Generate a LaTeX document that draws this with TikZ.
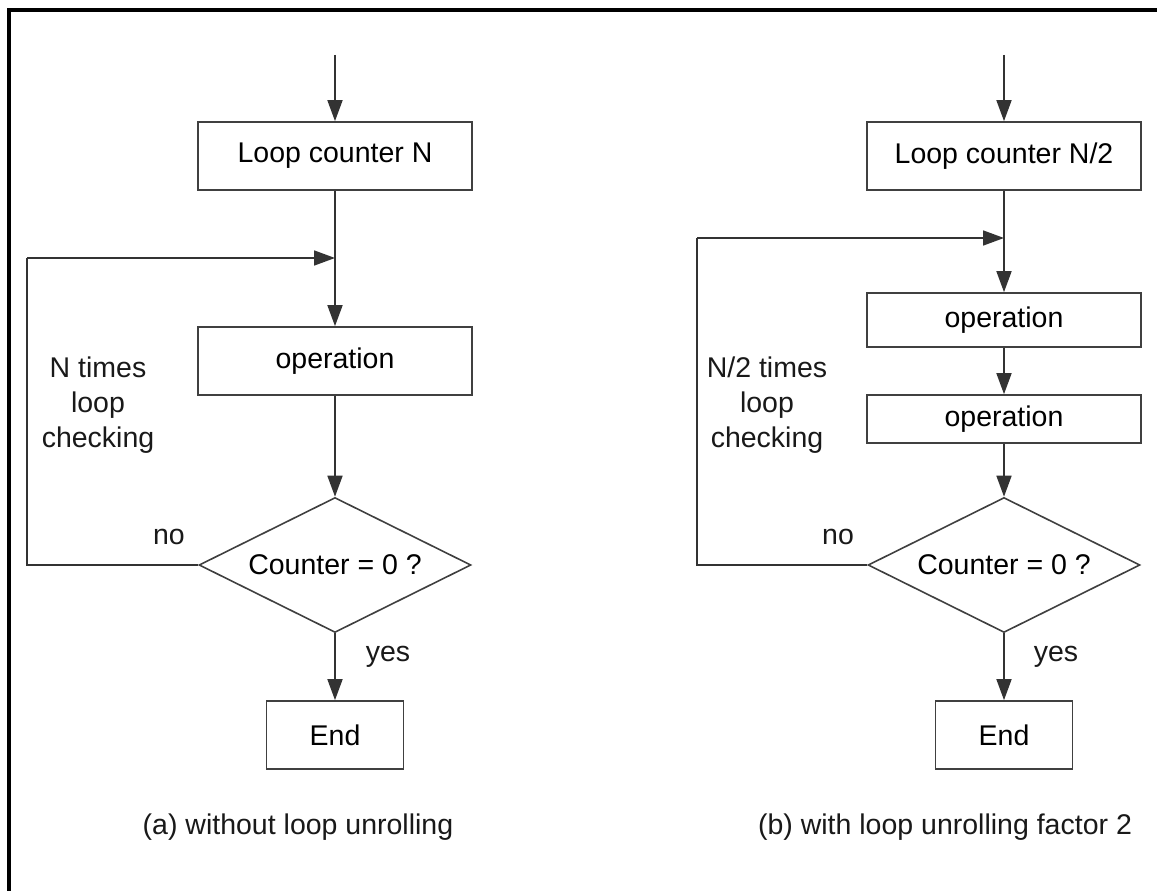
\documentclass[tikz,border=0pt]{standalone}
\usepackage{fontspec}
\setmainfont{Liberation Sans}
\usetikzlibrary{arrows.meta,shapes.geometric}
\tikzset{
  flowline/.style={line width=1.7pt, draw=black!80},
  flowarrow/.style={flowline, -{Triangle[length=21pt,width=15pt]}},
  procbox/.style={draw=black!75, line width=1.7pt, rectangle, inner sep=0pt,
    minimum width=274pt, minimum height=68pt},
  endbox/.style={procbox, minimum width=137pt},
  testbox/.style={draw=black!75, line width=1.6pt, diamond, aspect=2, inner sep=0pt,
    minimum width=272pt, minimum height=135pt},
  note/.style={inner sep=0pt, align=center, text=black!90},
}
\begin{document}
\begin{tikzpicture}[x=1pt, y=-1pt, font=\fontsize{28.5}{35}\selectfont]
  \useasboundingbox (0,0) rectangle (1157,891);
  \fill[white] (0,0) rectangle (1157,891);
  % frame (top and left edges)
  \draw[line width=4pt, line cap=rect] (8.7,891) -- (8.7,10.3) -- (1157,10.3);

  % ---------- (a) without loop unrolling ----------
  \coordinate (inA) at (335,55);
  \node[procbox] (cntA) at (335,156) {Loop counter N};
  \coordinate (joinA) at (335,258);
  \node[procbox] (opA) at (335,361) {operation};
  \node[testbox] (testA) at (335,565) {Counter = 0 ?};
  \node[endbox] (endA) at (335,735) {End};
  \coordinate (backA) at (27,258);

  \draw[flowarrow] (inA) -- (cntA.north);
  \draw[flowarrow] (cntA.south) -- (opA.north);
  \draw[flowarrow] (opA.south) -- (testA.north);
  \draw[flowarrow] (testA.south) -- (endA.north);
  \draw[flowline] (testA.west) -| (backA);
  \draw[flowarrow] (backA) -- (joinA);

  \node[note] (loopA) at (98,405) {N times\\loop\\checking};
  \node[note] (noA) at (169,537) {no};
  \node[note] (yesA) at (388,657) {yes};
  \node[note] (capA) at (298,827) {(a) without loop unrolling};

  % ---------- (b) with loop unrolling factor 2 ----------
  \coordinate (inB) at (1004,55);
  \node[procbox] (cntB) at (1004,156) {Loop counter N/2};
  \coordinate (joinB) at (1004,238);
  \node[procbox, minimum height=54pt] (opB1) at (1004,320) {operation};
  \node[procbox, minimum height=48pt] (opB2) at (1004,419) {operation};
  \node[testbox] (testB) at (1004,565) {Counter = 0 ?};
  \node[endbox] (endB) at (1004,735) {End};
  \coordinate (backB) at (697,238);

  \draw[flowarrow] (inB) -- (cntB.north);
  \draw[flowarrow] (cntB.south) -- (opB1.north);
  \draw[flowarrow] (opB1.south) -- (opB2.north);
  \draw[flowarrow] (opB2.south) -- (testB.north);
  \draw[flowarrow] (testB.south) -- (endB.north);
  \draw[flowline] (testB.west) -| (backB);
  \draw[flowarrow] (backB) -- (joinB);

  \node[note] (loopB) at (767,405) {N/2 times\\loop\\checking};
  \node[note] (noB) at (838,537) {no};
  \node[note] (yesB) at (1056,657) {yes};
  \node[note] (capB) at (945,827) {(b) with loop unrolling factor 2};
\end{tikzpicture}
\end{document}
